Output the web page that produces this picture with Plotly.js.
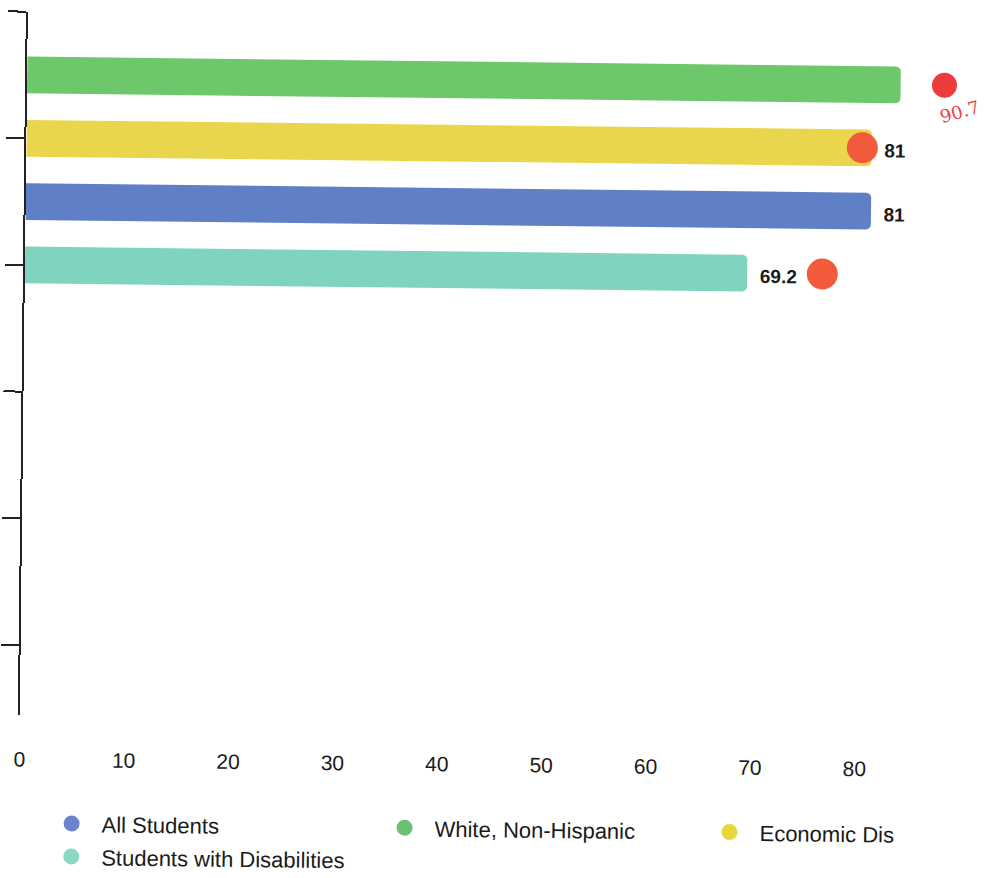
<!DOCTYPE html>
<html>
<head>
<meta charset="utf-8">
<script src="https://cdn.plot.ly/plotly-3.0.1.min.js"></script>
<style>
  html, body { margin: 0; padding: 0; background: #ffffff; overflow: hidden; }
  #chart { width: 998px; height: 878px; transform: rotate(0.65deg); transform-origin: 499px 439px; }
</style>
</head>
<body>
<div id="chart"></div>
<script>
// ---- data ----
const groups = ["White, Non-Hispanic", "Economic Dis", "All Students", "Students with Disabilities"];
const rowPos = [1, 2, 3, 4];
const values = [83.7, 81, 81, 69.2];
const valueLabels = ["", "81", "81", "69.2"];
const barColors = ["#6cc86b", "#ead64c", "#5f7fc6", "#7fd4c0"];
const legendOrder = ["All Students", "White, Non-Hispanic", "Economic Dis", "Students with Disabilities"];
const legendColors = ["#6a84cc", "#6cc070", "#e6d83a", "#8cd8c6"];
// handwritten red marks
const markX = [87.9, 80.1, 76.4];
const markY = [1, 2, 4];
const markColors = ["#ee3b3e", "#f25a3c", "#f25a3c"];
const markSizes = [25, 31, 31];
const handNote = "90.7";
const xTicks = [0, 10, 20, 30, 40, 50, 60, 70, 80];
const yTicks = [0, 2, 4, 6, 8, 10];

const font = "Liberation Sans, Arial, sans-serif";
const traces = [];

// bars
groups.forEach((g, i) => {
  traces.push({
    type: "bar", orientation: "h",
    x: [values[i]], y: [rowPos[i]],
    width: 0.58,
    marker: { color: barColors[i], cornerradius: 5, line: { width: 0 } },
    showlegend: false, hoverinfo: "x+name", name: g
  });
});

// legend entries (circles)
const legendIds = ["legend", "legend2", "legend3", "legend4"];
legendOrder.forEach((g, i) => {
  traces.push({
    type: "scatter", mode: "markers",
    x: [null], y: [null], name: g,
    marker: { color: legendColors[i], size: 17, symbol: "circle" },
    legend: legendIds[i], showlegend: true
  });
});

// red hand marks
traces.push({
  type: "scatter", mode: "markers",
  x: markX, y: markY,
  marker: { color: markColors, size: markSizes, opacity: 1, line: { width: 0 } },
  cliponaxis: false, showlegend: false, hoverinfo: "skip"
});

const annotations = [];
groups.forEach((g, i) => {
  if (valueLabels[i] !== "") {
    annotations.push({
      x: values[i], y: rowPos[i], xref: "x", yref: "y",
      text: "<b>" + valueLabels[i] + "</b>", showarrow: false,
      xanchor: "left", yanchor: "middle", xshift: 11, yshift: -3,
      font: { family: font, size: 19, color: "#1b1b1b" }
    });
  }
});
annotations.push({
  x: 87.0, y: 1.42, xref: "x", yref: "y",
  text: handNote, showarrow: false, textangle: -16,
  xanchor: "left", yanchor: "middle",
  font: { family: "DejaVu Serif, serif", size: 18, color: "#ef3d4a" }
});

function legendAt(cx, cy) {
  return {
    xref: "container", yref: "container",
    x: (cx - 30) / 998, y: 1 - cy / 878,
    xanchor: "left", yanchor: "middle",
    orientation: "v", bgcolor: "rgba(0,0,0,0)", borderwidth: 0,
    itemwidth: 50,
    font: { family: font, size: 22, color: "#1a1a1a" }
  };
}

const layout = {
  width: 998, height: 878,
  paper_bgcolor: "#ffffff", plot_bgcolor: "#ffffff",
  margin: { l: 23, r: 20, t: 17, b: 158, autoexpand: false },
  barmode: "overlay",
  showlegend: true,
  legend: legendAt(76, 828.5),
  legend2: legendAt(409, 829),
  legend3: legendAt(734, 829.6),
  legend4: legendAt(76, 861.5),
  xaxis: {
    range: [0, 91.5],
    tickvals: xTicks, ticktext: xTicks.map(String),
    showgrid: false, zeroline: false, showline: false, ticks: "",
    ticklabelstandoff: 30, automargin: false,
    tickfont: { family: font, size: 21, color: "#1a1a1a" }
  },
  yaxis: {
    range: [11.1, 0], automargin: false,
    tickvals: yTicks, showticklabels: false,
    showgrid: false, zeroline: false,
    showline: true, linecolor: "#222222", linewidth: 2,
    ticks: "outside", ticklen: 18, tickwidth: 2, tickcolor: "#222222"
  },
  annotations: annotations
};

Plotly.newPlot("chart", traces, layout, { displayModeBar: false, staticPlot: true });
</script>
</body>
</html>
